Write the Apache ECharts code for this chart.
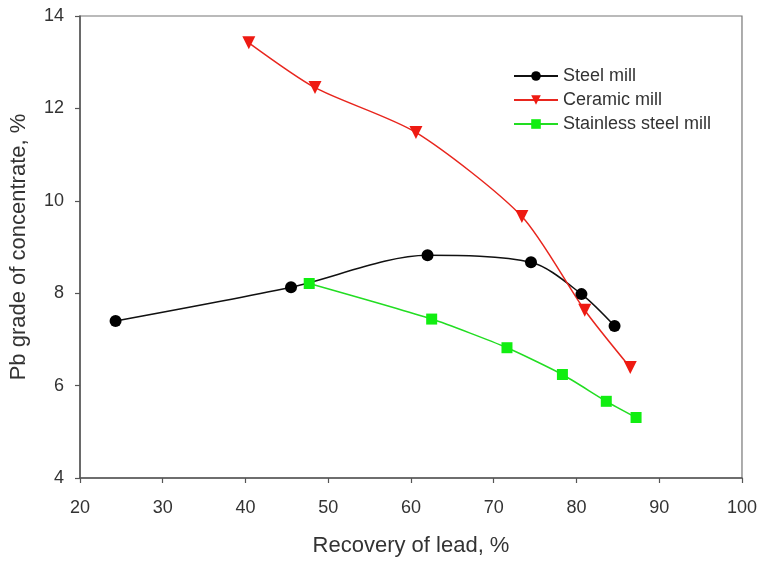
<!DOCTYPE html>
<html><head><meta charset="utf-8">
<script src="https://cdn.jsdelivr.net/npm/echarts@6/dist/echarts.min.js"></script>
<style>html,body{margin:0;padding:0;background:#fff}#c{width:760px;height:562px}</style>
</head><body><div id="c"></div>
<script>
const steelX = [24.3, 45.5, 62.0, 74.5, 80.6, 84.6];
const steelY = [7.40, 8.13, 8.82, 8.67, 7.98, 7.29];
const ceramicX = [40.4, 48.4, 60.6, 73.4, 81.0, 86.5];
const ceramicY = [13.42, 12.45, 11.48, 9.66, 7.63, 6.39];
const stainlessX = [47.7, 62.5, 71.6, 78.3, 83.6, 87.2];
const stainlessY = [8.21, 7.44, 6.82, 6.24, 5.66, 5.31];
const seriesNames = ['Steel mill', 'Ceramic mill', 'Stainless steel mill'];
const xTitle = 'Recovery of lead, %';
const yTitle = 'Pb grade of concentrate, %';

const pair = (xs, ys) => xs.map((x, i) => [x, ys[i]]);
const font = 'Liberation Sans, Arial, sans-serif';
const chart = echarts.init(document.getElementById('c'));
const axisCommon = {
  axisLine: {show: true, onZero: false, lineStyle: {color: '#555', width: 1.5}},
  axisTick: {show: true, inside: false, length: 5, lineStyle: {color: '#555', width: 1.2}},
  splitLine: {show: false},
  axisLabel: {color: '#333', fontSize: 18, fontFamily: font},
  nameTextStyle: {color: '#333', fontSize: 22, fontFamily: font}
};
chart.setOption({
  animation: false,
  backgroundColor: '#fff',
  grid: {left: 79, right: 17, top: 16, bottom: 81, show: true, borderColor: '#777', borderWidth: 1.2},
  legend: {
    orient: 'vertical', left: 508, top: 62, itemWidth: 44, itemHeight: 12, itemGap: 6,
    textStyle: {fontSize: 18, fontFamily: font, color: '#333'},
    data: seriesNames
  },
  xAxis: Object.assign({}, axisCommon, {
    type: 'value', min: 20, max: 100, interval: 10,
    name: xTitle, nameLocation: 'middle', nameGap: 57,
    axisLabel: Object.assign({}, axisCommon.axisLabel, {margin: 21})
  }),
  yAxis: Object.assign({}, axisCommon, {
    type: 'value', min: 4, max: 14, interval: 2,
    name: yTitle, nameLocation: 'middle', nameGap: 50,
    axisLabel: Object.assign({}, axisCommon.axisLabel, {margin: 16})
  }),
  series: [
    {name: seriesNames[0], type: 'line', smooth: 0.3, data: pair(steelX, steelY),
     symbol: 'circle', symbolSize: 12, lineStyle: {color: '#111', width: 1.5},
     itemStyle: {color: '#000'}},
    {name: seriesNames[1], type: 'line', smooth: 0.25, data: pair(ceramicX, ceramicY),
     symbol: 'triangle', symbolRotate: 180, symbolSize: 13, lineStyle: {color: '#e8261e', width: 1.5},
     itemStyle: {color: '#ee1a12'}},
    {name: seriesNames[2], type: 'line', smooth: 0.2, data: pair(stainlessX, stainlessY),
     symbol: 'rect', symbolSize: 11, lineStyle: {color: '#22dd22', width: 1.5},
     itemStyle: {color: '#11ee11'}}
  ]
});
</script></body></html>
